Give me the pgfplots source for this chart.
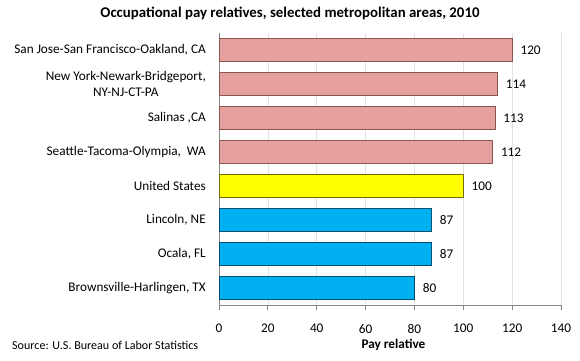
\documentclass[border=0pt]{standalone}
\usepackage{pgfplots}
\pgfplotsset{compat=1.18}
\usepackage{fontspec}
\setmainfont{Carlito}
\definecolor{pinkbar}{RGB}{230,160,158}
\definecolor{pinkedge}{RGB}{140,85,84}
\definecolor{yelbar}{RGB}{255,255,0}
\definecolor{yeledge}{RGB}{110,110,0}
\definecolor{bluebar}{RGB}{0,176,240}
\definecolor{blueedge}{RGB}{0,80,115}
\definecolor{axisgray}{RGB}{134,134,134}
\definecolor{gridgray}{RGB}{225,225,225}
\begin{document}
\begin{tikzpicture}[x=1bp,y=1bp]
\useasboundingbox (0,0) rectangle (580,360);
\begin{axis}[
  at={(219bp,55bp)}, anchor=south west,
  scale only axis, width=342bp, height=272bp,
  xmin=0, xmax=140, ymin=-0.5, ymax=7.5,
  xtick={0,20,...,140},
  ytick={0,...,7},
  yticklabels={{Brownsville-Harlingen, TX},{Ocala, FL},{Lincoln, NE},{United States},{Seattle-Tacoma-Olympia,\ \ WA},{Salinas ,CA},{New York-Newark-Bridgeport,\\NY-NJ-CT-PA},{San Jose-San Francisco-Oakland, CA}},
  minor ytick={-0.5,0.5,...,7.5},
  axis x line*=bottom, axis y line*=left,
  axis line style={axisgray, line width=0.8pt, -},
  xmajorgrids, grid style={gridgray, line width=0.6pt},
  tick align=outside,
  major tick length=5bp, minor tick length=5bp,
  xtick style={axisgray, line width=0.8pt},
  ytick style={draw=none},
  minor tick style={axisgray, line width=0.8pt},
  yticklabel style={align=center, font=\fontsize{13.3}{16}\selectfont, inner sep=0pt, xshift=-8bp},
  xticklabel style={font=\fontsize{13.3}{16}\selectfont, inner sep=0pt, yshift=-14bp},
  /pgf/number format/assume math mode=true,
  xlabel={\textbf{Pay relative}},
  xlabel style={font=\fontsize{13.3}{16}\selectfont, at={(axis description cs:0.51,0)}, anchor=center, yshift=-40bp},
  xbar, bar width=23bp,
  nodes near coords,
  nodes near coords style={font=\fontsize{13.3}{16}\selectfont, black, anchor=west, inner sep=0pt, xshift=8bp},
  clip=false,
]
\addplot[bar shift=0pt, fill=bluebar, draw=blueedge, line width=0.8pt] coordinates {(80,0) (87,1) (87,2)};
\addplot[bar shift=0pt, fill=yelbar, draw=yeledge, line width=0.8pt] coordinates {(100,3)};
\addplot[bar shift=0pt, fill=pinkbar, draw=pinkedge, line width=0.8pt] coordinates {(112,4) (113,5) (114,6) (120,7)};
\end{axis}
\node[font=\fontsize{14.9}{17}\selectfont\bfseries] at (290,347) {Occupational pay relatives, selected metropolitan areas, 2010};
\node[font=\fontsize{12.1}{15}\selectfont, anchor=west, inner sep=0pt] at (12,15) {Source: U.S. Bureau of Labor Statistics};
\end{tikzpicture}
\end{document}
